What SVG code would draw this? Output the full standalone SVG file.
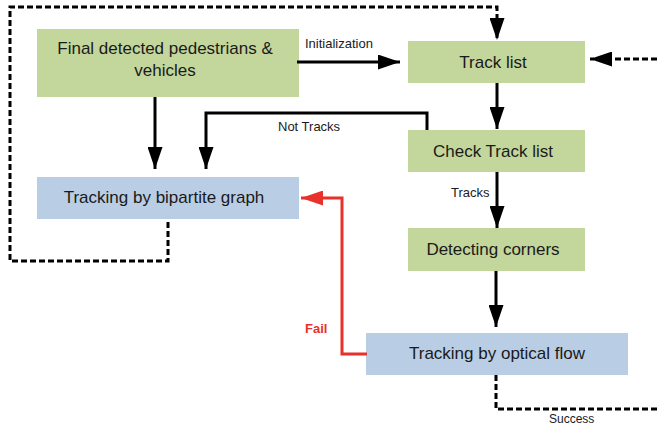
<svg xmlns="http://www.w3.org/2000/svg" width="657" height="427" viewBox="0 0 657 427">
<style>
.g{fill:#c3d69b}
.b{fill:#b9cde5}
.t{font-family:"Liberation Sans",Arial,sans-serif;font-size:17px;fill:#1a1a1a;text-anchor:middle}
.s{font-family:"Liberation Sans",Arial,sans-serif;font-size:13px;fill:#1a1a1a}
.k{fill:none;stroke:#000;stroke-width:3}
.d{fill:none;stroke:#000;stroke-width:3;stroke-dasharray:6,3}
.r{fill:none;stroke:#e8312a;stroke-width:3}
</style>
<defs>
<marker id="ak" markerUnits="userSpaceOnUse" markerWidth="22" markerHeight="15" refX="22" refY="7.5" viewBox="0 0 22 15" orient="auto"><path d="M0,0 L22,7.5 L0,15 Z" fill="#000"/></marker>
<marker id="ar" markerUnits="userSpaceOnUse" markerWidth="22" markerHeight="15" refX="22" refY="7.5" viewBox="0 0 22 15" orient="auto"><path d="M0,0 L22,7.5 L0,15 Z" fill="#e8312a"/></marker>
</defs>
<rect width="657" height="427" fill="#fff"/>
<g id="n1"><rect class="g" x="37" y="29" width="262" height="68"/><text class="t" x="165" y="54">Final detected pedestrians &amp;</text><text class="t" x="165" y="76">vehicles</text></g>
<g id="n2"><rect class="g" x="408" y="41" width="177" height="42"/><text class="t" x="493" y="68">Track list</text></g>
<g id="n3"><rect class="g" x="408" y="130" width="177" height="42"/><text class="t" x="493" y="157">Check Track list</text></g>
<g id="n4"><rect class="b" x="37" y="177" width="262" height="42"/><text class="t" x="164" y="203">Tracking by bipartite graph</text></g>
<g id="n5"><rect class="g" x="408" y="228" width="177" height="43"/><text class="t" x="493" y="255">Detecting corners</text></g>
<g id="n6"><rect class="b" x="366" y="333" width="262" height="42"/><text class="t" x="497" y="359">Tracking by optical flow</text></g>
<g id="connectors">
<path class="k" d="M297,62 H400" marker-end="url(#ak)"/>
<path class="k" d="M497,83 V129" marker-end="url(#ak)"/>
<path class="k" d="M497,172 V228" marker-end="url(#ak)"/>
<path class="k" d="M496,271 V327" marker-end="url(#ak)"/>
<path class="k" d="M155,97 V169" marker-end="url(#ak)"/>
<path class="k" d="M427,130 V113 H206 V169" marker-end="url(#ak)"/>
<path class="r" d="M367,354 H342 V198 H301" marker-end="url(#ar)"/>
<path class="d" d="M168,222 V261 H10 V7 H497 V40" marker-end="url(#ak)"/>
<path class="d" d="M657,59 H590" marker-end="url(#ak)"/>
<path class="d" d="M496,375 V409 H657"/>
<text class="s" x="305" y="48">Initialization</text>
<text class="s" x="451" y="197">Tracks</text>
<text class="s" x="278" y="131">Not Tracks</text>
<text class="s" x="549" y="423" style="font-size:12px">Success</text>
<text class="s" x="305" y="333" style="fill:#e8312a;font-weight:bold">Fail</text>
</g>
</svg>
